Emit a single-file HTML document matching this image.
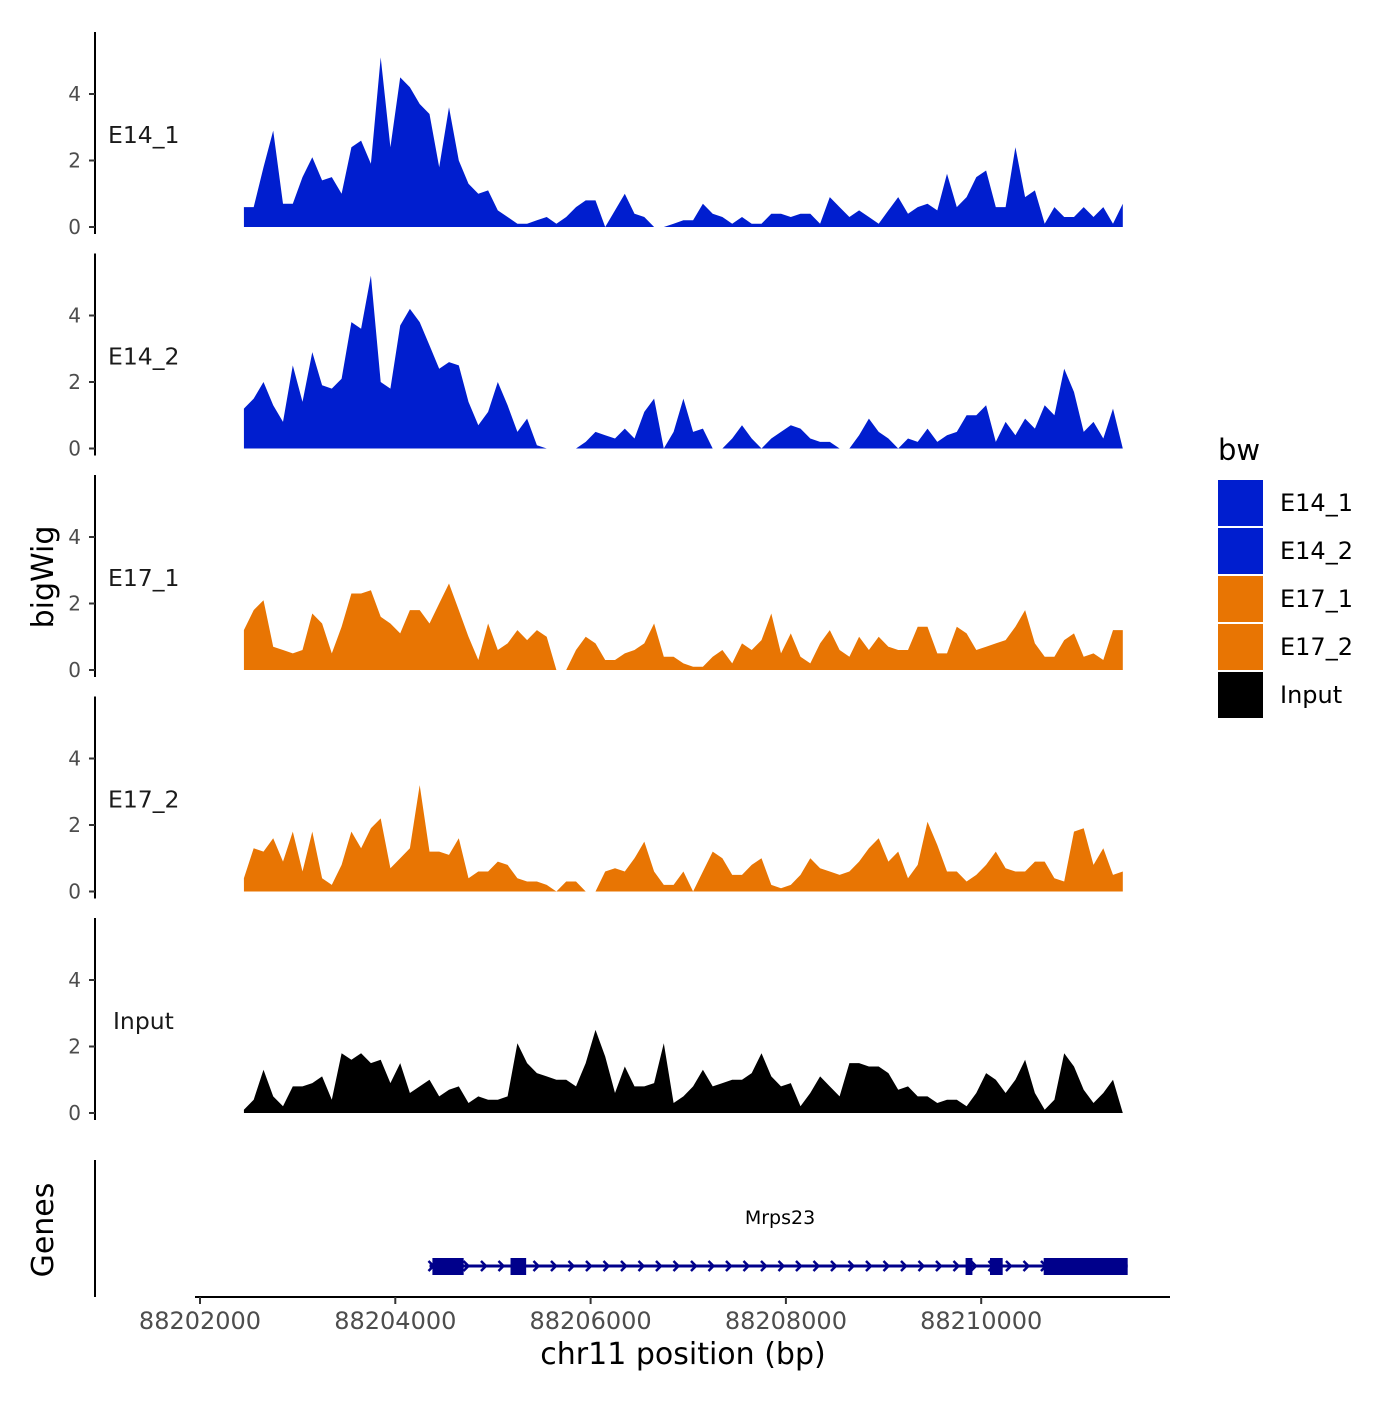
<!DOCTYPE html>
<html><head><meta charset="utf-8"><style>
body{margin:0;background:#fff}
svg text{font-family:"DejaVu Sans","Liberation Sans",sans-serif}
</style></head><body>
<svg id="c" width="1400" height="1400" xmlns="http://www.w3.org/2000/svg"></svg>
<script>
const trackNames=["E14_1","E14_2","E17_1","E17_2","Input"];
const trackColors=["#001ECF","#001ECF","#E87503","#E87503","#000000"];
const startBp=88202450, stepBp=100;
const e14_1=[0.6,0.6,1.8,2.9,0.7,0.7,1.5,2.1,1.4,1.5,1.0,2.4,2.6,1.9,5.1,2.4,4.5,4.2,3.7,3.4,1.8,3.6,2.0,1.3,1.0,1.1,0.5,0.3,0.1,0.1,0.2,0.3,0.1,0.3,0.6,0.8,0.8,0,0.5,1.0,0.4,0.3,0,0,0.1,0.2,0.2,0.7,0.4,0.3,0.1,0.3,0.1,0.1,0.4,0.4,0.3,0.4,0.4,0.1,0.9,0.6,0.3,0.5,0.3,0.1,0.5,0.9,0.4,0.6,0.7,0.5,1.6,0.6,0.9,1.5,1.7,0.6,0.6,2.4,0.9,1.1,0.1,0.6,0.3,0.3,0.6,0.3,0.6,0.1,0.7];
const e14_2=[1.2,1.5,2.0,1.3,0.8,2.5,1.4,2.9,1.9,1.8,2.1,3.8,3.6,5.2,2.0,1.8,3.7,4.2,3.8,3.1,2.4,2.6,2.5,1.4,0.7,1.1,2.0,1.3,0.5,0.9,0.1,0,0,0,0,0.2,0.5,0.4,0.3,0.6,0.3,1.1,1.5,0,0.5,1.5,0.5,0.6,0,0,0.3,0.7,0.3,0,0.3,0.5,0.7,0.6,0.3,0.2,0.2,0,0,0.4,0.9,0.5,0.3,0,0.3,0.2,0.6,0.2,0.4,0.5,1.0,1.0,1.3,0.2,0.8,0.4,0.9,0.6,1.3,1.0,2.4,1.7,0.5,0.8,0.3,1.2,0];
const e17_1=[1.2,1.8,2.1,0.7,0.6,0.5,0.6,1.7,1.4,0.5,1.3,2.3,2.3,2.4,1.6,1.4,1.1,1.8,1.8,1.4,2.0,2.6,1.8,1.0,0.3,1.4,0.6,0.8,1.2,0.9,1.2,1.0,0,0,0.6,1.0,0.8,0.3,0.3,0.5,0.6,0.8,1.4,0.4,0.4,0.2,0.1,0.1,0.4,0.6,0.2,0.8,0.6,0.9,1.7,0.5,1.1,0.4,0.2,0.8,1.2,0.6,0.4,1.0,0.6,1.0,0.7,0.6,0.6,1.3,1.3,0.5,0.5,1.3,1.1,0.6,0.7,0.8,0.9,1.3,1.8,0.8,0.4,0.4,0.9,1.1,0.4,0.5,0.3,1.2,1.2];
const e17_2=[0.4,1.3,1.2,1.6,0.9,1.8,0.6,1.8,0.4,0.2,0.8,1.8,1.3,1.9,2.2,0.7,1.0,1.3,3.2,1.2,1.2,1.1,1.6,0.4,0.6,0.6,0.9,0.8,0.4,0.3,0.3,0.2,0,0.3,0.3,0,0,0.6,0.7,0.6,1.0,1.5,0.6,0.2,0.2,0.6,0,0.6,1.2,1.0,0.5,0.5,0.8,1.0,0.2,0.1,0.2,0.5,1.0,0.7,0.6,0.5,0.6,0.9,1.3,1.6,0.9,1.2,0.4,0.8,2.1,1.4,0.6,0.6,0.3,0.5,0.8,1.2,0.7,0.6,0.6,0.9,0.9,0.4,0.3,1.8,1.9,0.8,1.3,0.5,0.6];
const input=[0.1,0.4,1.3,0.5,0.2,0.8,0.8,0.9,1.1,0.4,1.8,1.6,1.8,1.5,1.6,0.9,1.5,0.6,0.8,1.0,0.5,0.7,0.8,0.3,0.5,0.4,0.4,0.5,2.1,1.5,1.2,1.1,1.0,1.0,0.8,1.5,2.5,1.7,0.6,1.4,0.8,0.8,0.9,2.1,0.3,0.5,0.8,1.3,0.8,0.9,1.0,1.0,1.2,1.8,1.1,0.8,0.9,0.2,0.6,1.1,0.8,0.5,1.5,1.5,1.4,1.4,1.2,0.7,0.8,0.5,0.5,0.3,0.4,0.4,0.2,0.6,1.2,1.0,0.6,1.0,1.6,0.6,0.1,0.4,1.8,1.4,0.7,0.3,0.6,1.0,0];
const series=[e14_1,e14_2,e17_1,e17_2,input];
const yTicks=[0,2,4];
const xTicks=[88202000,88204000,88206000,88208000,88210000];
const exons=[[88204380,88204700],[88205180,88205340],[88209840,88209910],[88210090,88210220],[88210640,88211500]];
const geneStart=88204350, geneEnd=88211500, geneName="Mrps23";

const svg=document.getElementById('c');
const NS='http://www.w3.org/2000/svg';
function mk(t,a,p){const e=document.createElementNS(NS,t);for(const k in a)e.setAttribute(k,a[k]);(p||svg).appendChild(e);return e;}
const xs=bp=>200+(bp-88202000)*0.09765;
const ppu=33.25;
trackNames.forEach((nm,i)=>{
  const base=227+221.5*i;
  const ys=v=>base-v*ppu;
  const g=mk('g',{});
  
  
  const d=series[i];
  let p='M'+xs(startBp)+','+base;
  d.forEach((v,j)=>{p+=' L'+xs(startBp+j*stepBp).toFixed(1)+','+ys(v).toFixed(1);});
  p+=' L'+xs(startBp+(d.length-1)*stepBp).toFixed(1)+','+base+' Z';
  const a=mk('path',{d:p,fill:trackColors[i]},g);
  
  
  const ax=mk('line',{x1:95,x2:95,y1:base-195,y2:base+7,stroke:'#000','stroke-width':2},g);
  
  
  yTicks.forEach(t=>{
    mk('line',{x1:89,x2:95,y1:ys(t),y2:ys(t),stroke:'#333','stroke-width':2},g);
    const tx=mk('text',{x:81,y:ys(t)+7,'text-anchor':'end','font-size':20,fill:'#4d4d4d'},g);
    tx.textContent=t;
    
    
  });
  const lb=mk('text',{x:nm==='Input'?113:108,y:base-84,'font-size':23.5,fill:'#1a1a1a'},g);
  lb.textContent=nm;
  
  
});
// gene track
const gg=mk('g',{});


mk('line',{x1:95,x2:95,y1:1160,y2:1297,stroke:'#000','stroke-width':2},gg);
mk('line',{x1:xs(geneStart),x2:xs(geneEnd),y1:1266,y2:1266,stroke:'#00008B','stroke-width':3},gg);
for(let x=xs(geneStart)+2;x<xs(geneEnd);x+=17.5){
  mk('path',{d:`M${x-3},${1261} L${x+2},${1266} L${x-3},${1271}`,fill:'none',stroke:'#00008B','stroke-width':2.5},gg);
}
exons.forEach(e=>{
  const r=mk('rect',{x:xs(e[0]),y:1258,width:xs(e[1])-xs(e[0]),height:17,fill:'#00008B'},gg);
  
  
});
const gn=mk('text',{x:780,y:1224,'text-anchor':'middle','font-size':19,fill:'#000'},gg);
gn.textContent=geneName;


// x axis
const xa=mk('g',{});


mk('line',{x1:195,x2:1170,y1:1297,y2:1297,stroke:'#000','stroke-width':2},xa);
xTicks.forEach(t=>{
  mk('line',{x1:xs(t),x2:xs(t),y1:1297,y2:1304,stroke:'#333','stroke-width':2},xa);
  const tx=mk('text',{x:xs(t),y:1329,'text-anchor':'middle','font-size':24,fill:'#4d4d4d'},xa);
  tx.textContent=t;
  
  
});
const xt=mk('text',{x:683,y:1364,'text-anchor':'middle','font-size':30,fill:'#000'});
xt.textContent='chr11 position (bp)';


const yt=mk('text',{x:53,y:577,'text-anchor':'middle','font-size':30,fill:'#000',transform:'rotate(-90 53 577)'});
yt.textContent='bigWig';


const gt=mk('text',{x:53,y:1230,'text-anchor':'middle','font-size':30,fill:'#000',transform:'rotate(-90 53 1230)'});
gt.textContent='Genes';


// legend
const lg=mk('g',{});


const lt=mk('text',{x:1218,y:460,'font-size':29,fill:'#000'},lg);
lt.textContent='bw';
trackNames.forEach((nm,i)=>{
  const y=480+48*i;
  const e=mk('g',{},lg);
  
  
  mk('rect',{x:1218,y:y,width:45,height:46,fill:trackColors[i]},e);
  const t=mk('text',{x:1280,y:y+31,'font-size':24,fill:'#000'},e);
  t.textContent=nm;
});
</script>
</body></html>
